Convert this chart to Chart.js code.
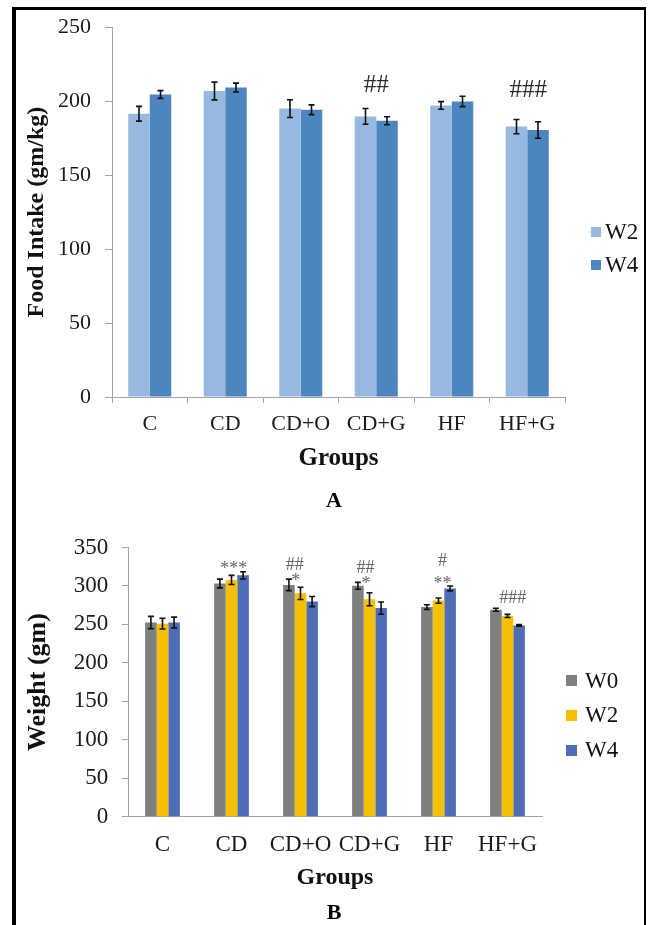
<!DOCTYPE html>
<html>
<head>
<meta charset="utf-8">
<script src="https://cdn.jsdelivr.net/npm/chart.js@4.4.1/dist/chart.umd.min.js"></script>
<style>
    body { margin: 0; background: #fff; font-family: 'Liberation Serif', 'Times New Roman', serif; }
    #frame {
        position: absolute; left: 12px; top: 7px; width: 634px; height: 940px;
        box-sizing: border-box;
        border-left: 4px solid #000; border-top: 3px solid #000; border-right: 2px solid #000;
    }
    canvas { position: absolute; left: 0; }
    #chart-intake { top: 0; }
    #chart-weight { top: 520px; }
    .legend-item { position: absolute; display: flex; align-items: center; height: 30px; font-size: 23px; color: #111; white-space: nowrap; }
    .legend-item i { display: inline-block; }
    .panel { position: absolute; font-weight: bold; font-size: 22px; color: #000; transform: translate(-50%, -50%); }
</style>
</head>
<body>
<div id="frame"></div>
<canvas id="chart-intake" width="651" height="520"></canvas>
<canvas id="chart-weight" width="651" height="405"></canvas>
<div class="panel" style="left:334px; top:500px;">A</div>
<div class="panel" style="left:334px; top:912px;">B</div>
<script>
const groups = ['C', 'CD', 'CD+O', 'CD+G', 'HF', 'HF+G'];

// A: food intake (gm/kg)
const intakeSeries = ['W2', 'W4'];
const intakeW2 = [191.5, 206.9, 195.0, 189.7, 197.1, 182.8];
const intakeW2Err = [5.0, 6.0, 6.0, 5.3, 2.6, 4.8];
const intakeW4 = [204.5, 209.2, 194.2, 186.8, 199.8, 180.5];
const intakeW4Err = [2.6, 3.0, 3.3, 2.7, 3.5, 5.6];
const intakeTicks = [0, 50, 100, 150, 200, 250];
const intakeMarks = [
    { group: 'CD+G', bar: 0.5, text: '##', y: 212 },
    { group: 'HF+G', bar: 0.55, text: '###', y: 208.4 },
];

// B: body weight (gm)
const weightSeries = ['W0', 'W2', 'W4'];
const weightW0 = [252.5, 303.2, 301.4, 300.2, 272.5, 269.1];
const weightW0Err = [8.0, 5.7, 7.5, 4.5, 3.0, 2.0];
const weightW2 = [251.0, 307.8, 290.4, 282.7, 281.0, 261.0];
const weightW2Err = [7.0, 6.0, 8.0, 8.5, 3.4, 2.0];
const weightW4 = [252.5, 313.8, 279.7, 271.2, 296.8, 248.7];
const weightW4Err = [7.0, 4.7, 6.6, 8.0, 3.2, 1.0];
const weightTicks = [0, 50, 100, 150, 200, 250, 300, 350];
const weightMarks = [
    { group: 'CD', bar: 1.2, text: '***', y: 327 },
    { group: 'CD+O', bar: 0.5, text: '##', y: 328.7 },
    { group: 'CD+O', bar: 0.6, text: '*', y: 310.8 },
    { group: 'CD+G', bar: 0.65, text: '##', y: 324.4 },
    { group: 'CD+G', bar: 0.7, text: '*', y: 306.5 },
    { group: 'HF', bar: 1.35, text: '#', y: 334.2 },
    { group: 'HF', bar: 1.35, text: '**', y: 306.5 },
    { group: 'HF+G', bar: 1.45, text: '###', y: 285.3 },
];

const serif = "'Liberation Serif', 'Times New Roman', serif";
Chart.defaults.font.family = serif;
const axisGray = '#a3a3a3';
const textDark = '#1a1a1a';

const errorBars = (errs, cap) => ({
    id: 'errorBars',
    afterDatasetsDraw(chart) {
        const { ctx } = chart;
        const y = chart.scales.y;
        ctx.save();
        ctx.strokeStyle = '#111';
        ctx.lineWidth = 1.6;
        chart.data.datasets.forEach((ds, i) => {
            chart.getDatasetMeta(i).data.forEach((bar, j) => {
                const top = y.getPixelForValue(ds.data[j] + errs[i][j]);
                const bot = y.getPixelForValue(ds.data[j] - errs[i][j]);
                ctx.beginPath();
                ctx.moveTo(bar.x, top); ctx.lineTo(bar.x, bot);
                ctx.moveTo(bar.x - cap, top); ctx.lineTo(bar.x + cap, top);
                ctx.moveTo(bar.x - cap, bot); ctx.lineTo(bar.x + cap, bot);
                ctx.stroke();
            });
        });
        ctx.restore();
    },
});

// significance marks (#, *) placed by group + bar position + value
const sigMarks = (marks, size, color) => ({
    id: 'sigMarks',
    afterDatasetsDraw(chart) {
        const { ctx } = chart;
        const y = chart.scales.y;
        const m0 = chart.getDatasetMeta(0).data;
        const m1 = chart.getDatasetMeta(1).data;
        ctx.save();
        ctx.fillStyle = color;
        ctx.font = `${size}px ${serif}`;
        ctx.textAlign = 'center';
        ctx.textBaseline = 'alphabetic';
        marks.forEach((m) => {
            const g = groups.indexOf(m.group);
            const x = m0[g].x + m.bar * (m1[g].x - m0[g].x);
            const k = m.text.includes('*') ? 0.47 : 0.34;
            ctx.fillText(m.text, x, y.getPixelForValue(m.y) + k * size);
        });
        ctx.restore();
    },
});

const buildLegend = (names, colors, left, textLeft, firstY, step, box) => {
    names.forEach((name, i) => {
        const item = document.createElement('div');
        item.className = 'legend-item';
        item.style.left = left + 'px';
        item.style.top = (firstY + step * i - 15) + 'px';
        item.innerHTML = `<i style="width:${box}px;height:${box}px;background:${colors[i]};margin-right:${textLeft - left - box}px"></i>${name}`;
        document.body.appendChild(item);
    });
};

const intakeColors = ['#98b9df', '#4d86be'];
new Chart(document.getElementById('chart-intake'), {
    type: 'bar',
    data: {
        labels: groups,
        datasets: [
            { label: intakeSeries[0], data: intakeW2, backgroundColor: intakeColors[0], categoryPercentage: 0.57, barPercentage: 1 },
            { label: intakeSeries[1], data: intakeW4, backgroundColor: intakeColors[1], categoryPercentage: 0.57, barPercentage: 1 },
        ],
    },
    options: {
        responsive: false,
        animation: false,
        devicePixelRatio: 1,
        layout: { padding: { left: 18, right: 86, top: 24, bottom: 46 } },
        plugins: { legend: { display: false }, tooltip: { enabled: false } },
        scales: {
            x: {
                grid: { drawOnChartArea: false, tickLength: 6, color: axisGray },
                border: { color: axisGray },
                ticks: { padding: 8, color: textDark, font: { size: 22 } },
                title: { display: true, text: 'Groups', color: '#111', padding: 0, font: { size: 25, weight: 'bold' } },
                afterFit(s) { s.height = 77; },
            },
            y: {
                min: intakeTicks[0],
                max: intakeTicks[intakeTicks.length - 1],
                grid: { drawOnChartArea: false, tickLength: 7, color: axisGray },
                border: { color: axisGray },
                ticks: { stepSize: 50, padding: 14, color: textDark, font: { size: 22 } },
                title: { display: true, text: 'Food Intake (gm/kg)', color: '#111', padding: { top: 4, bottom: 0 }, font: { size: 24, weight: 'bold' } },
                afterFit(s) { s.width = 94; },
            },
        },
    },
    plugins: [errorBars([intakeW2Err, intakeW4Err], 3), sigMarks(intakeMarks, 25, '#2a2a2a')],
});
buildLegend(intakeSeries, intakeColors, 591, 605, 231.5, 33, 10);

const weightColors = ['#7f7f7f', '#f5c000', '#4f6db6'];
const weightSets = [weightW0, weightW2, weightW4];
new Chart(document.getElementById('chart-weight'), {
    type: 'bar',
    data: {
        labels: groups,
        datasets: weightSets.map((d, i) => ({
            label: weightSeries[i], data: d, backgroundColor: weightColors[i],
            categoryPercentage: 0.504, barPercentage: 1,
        })),
    },
    options: {
        responsive: false,
        animation: false,
        devicePixelRatio: 1,
        layout: { padding: { left: 18, right: 109, top: 22.7, bottom: 32.6 } },
        plugins: { legend: { display: false }, tooltip: { enabled: false } },
        scales: {
            x: {
                grid: { display: false, drawTicks: false },
                border: { color: axisGray },
                ticks: { padding: 14.5, color: textDark, font: { size: 23 } },
                title: { display: true, text: 'Groups', color: '#111', padding: 0, font: { size: 24, weight: 'bold' } },
                afterFit(s) { s.height = 75.7; },
            },
            y: {
                min: weightTicks[0],
                max: weightTicks[weightTicks.length - 1],
                grid: { drawOnChartArea: false, tickLength: 6, color: axisGray },
                border: { color: axisGray },
                ticks: { stepSize: 50, padding: 13.7, color: textDark, font: { size: 23 } },
                title: { display: true, text: 'Weight (gm)', color: '#111', padding: { top: 4.4, bottom: 0 }, font: { size: 26, weight: 'bold' } },
                afterFit(s) { s.width = 110; },
            },
        },
    },
    plugins: [errorBars([weightW0Err, weightW2Err, weightW4Err], 3), sigMarks(weightMarks, 18, '#666')],
});
buildLegend(weightSeries, weightColors, 566, 585, 680.7, 34.7, 11);
</script>
</body>
</html>
